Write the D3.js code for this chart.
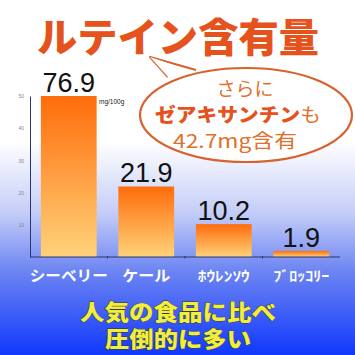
<!DOCTYPE html>
<html lang="ja">
<head>
<meta charset="UTF-8">
<title>ルテイン含有量</title>
<script src="https://d3js.org/d3.v7.min.js"></script>
<style>
  body { margin: 0; }
  svg { display: block; }
</style>
</head>
<body>
<div id="chart"></div>
<script>
  // データ
  const foods = ["シーベリー", "ケール", "ﾎｳﾚﾝｿｳ", "ﾌﾞﾛｯｺﾘｰ"];
  const lutein = [76.9, 21.9, 10.2, 1.9];
  const yTicks = [10, 20, 30, 40, 50];
  const bubbleLines = ["さらに", "ゼアキサンチン", "も", "42.7mg含有"];
  const footerLines = ["人気の食品に比べ", "圧倒的に多い"];

  const width = 355, height = 355;
  const jp = "'Noto Sans CJK JP', 'Noto Sans', sans-serif";

  const svg = d3.select("#chart").append("svg")
    .attr("width", width).attr("height", height);

  const defs = svg.append("defs");
  const bg = defs.append("linearGradient").attr("id", "bg")
    .attr("x1", 0).attr("y1", 0).attr("x2", 0).attr("y2", 1);
  bg.append("stop").attr("offset", "0%").attr("stop-color", "#ffffff");
  bg.append("stop").attr("offset", "40%").attr("stop-color", "#ffffff");
  bg.append("stop").attr("offset", "60%").attr("stop-color", "#c4cdf8");
  bg.append("stop").attr("offset", "76%").attr("stop-color", "#6e86f2");
  bg.append("stop").attr("offset", "100%").attr("stop-color", "#1038fd");

  const barGrad = defs.append("linearGradient").attr("id", "bar")
    .attr("x1", 0).attr("y1", 0).attr("x2", 0).attr("y2", 1);
  barGrad.append("stop").attr("offset", "0%").attr("stop-color", "#ff6c0a");
  barGrad.append("stop").attr("offset", "100%").attr("stop-color", "#ffd27a");

  svg.append("rect").attr("width", width).attr("height", height).attr("fill", "url(#bg)");

  // スケール
  const x = d3.scaleBand().domain(foods).range([30, 340])
    .paddingInner(0.28).paddingOuter(0.14);
  const y = d3.scaleLinear().domain([0, 50]).range([257, 96]).clamp(true);

  // 軸
  const yAxis = svg.append("g").attr("transform", "translate(30,0)")
    .call(d3.axisLeft(y).tickValues(yTicks).tickSize(0).tickPadding(6));
  yAxis.select(".domain").attr("stroke", "#2a3470").attr("stroke-width", 1);
  yAxis.selectAll("text").attr("font-size", 5).attr("fill", "#888")
    .attr("font-family", "Liberation Sans, Arial, sans-serif");

  // 棒
  svg.selectAll(".bar").data(lutein).join("rect")
    .attr("class", "bar")
    .attr("x", (d, i) => x(foods[i]))
    .attr("y", d => y(d))
    .attr("width", x.bandwidth())
    .attr("height", d => y(0) - y(d))
    .attr("fill", "url(#bar)");

  const xAxis = svg.append("g").attr("transform", "translate(0,257)");
  xAxis.append("line").attr("x1", 30).attr("x2", 340)
    .attr("stroke", "#2a3470").attr("stroke-width", 1);
  xAxis.selectAll(".tk").data(foods.slice(1)).join("line")
    .attr("x1", d => x(d) - x.step() * x.paddingInner() / 2)
    .attr("x2", d => x(d) - x.step() * x.paddingInner() / 2)
    .attr("y1", -1).attr("y2", 1.5).attr("stroke", "#2a3470");

  // 値ラベル
  svg.selectAll(".val").data(lutein).join("text")
    .attr("x", (d, i) => x(foods[i]) + x.bandwidth() / 2)
    .attr("y", d => y(d) - 4)
    .attr("text-anchor", "middle")
    .attr("font-family", "Liberation Sans, Arial, sans-serif")
    .attr("font-size", 27)
    .attr("fill", "#111")
    .text(d => d.toFixed(1));

  svg.append("text").attr("x", 99).attr("y", 104)
    .attr("font-family", "Liberation Sans, Arial, sans-serif")
    .attr("font-size", 6.5).attr("fill", "#222").text("mg/100g");

  // カテゴリ名
  svg.selectAll(".cat").data(foods).join("text")
    .attr("x", d => x(d) + x.bandwidth() / 2)
    .attr("y", 281)
    .attr("text-anchor", "middle")
    .attr("font-family", jp)
    .attr("font-weight", 700)
    .attr("font-size", (d, i) => i < 2 ? 15 : 14)
    .attr("fill", "#ffffff")
    .attr("textLength", (d, i) => [78, 48, 52, 56][i])
    .attr("lengthAdjust", "spacingAndGlyphs")
    .text(d => d);

  // タイトル
  svg.append("text").attr("x", 178).attr("y", 52)
    .attr("text-anchor", "middle")
    .attr("font-family", jp).attr("font-weight", 900)
    .attr("font-size", 40).attr("fill", "#e5521c")
    .attr("textLength", 282).attr("lengthAdjust", "spacingAndGlyphs")
    .text("ルテイン含有量");

  // 吹き出し
  const cx = 246, cy = 115, rx = 106, ry = 47;
  const bubble = svg.append("g");
  bubble.append("path")
    .attr("d", `M168,${cy - ry + 9} L150,57 L196,${cy - ry + 2}`)
    .attr("fill", "#fff").attr("stroke", "#d8612c").attr("stroke-width", 2.2)
    .attr("stroke-linejoin", "round");
  bubble.append("ellipse").attr("cx", cx).attr("cy", cy).attr("rx", rx).attr("ry", ry)
    .attr("fill", "#fff").attr("stroke", "#d8612c").attr("stroke-width", 2.2);
  bubble.append("path")
    .attr("d", `M170,${cy - ry + 11} L150,57 L194,${cy - ry + 4}`)
    .attr("fill", "#fff").attr("stroke", "none");

  bubble.append("text").attr("x", 245).attr("y", 96).attr("text-anchor", "middle")
    .attr("font-family", jp).attr("font-size", 19).attr("fill", "#e0702a")
    .text(bubbleLines[0]);
  const t2 = bubble.append("text").attr("x", 238).attr("y", 122).attr("text-anchor", "middle")
    .attr("font-family", jp).attr("font-size", 19)
    .attr("textLength", 166).attr("lengthAdjust", "spacingAndGlyphs");
  t2.append("tspan").attr("font-weight", 900).attr("fill", "#e5521c").text(bubbleLines[1]);
  t2.append("tspan").attr("fill", "#e0702a").text(bubbleLines[2]);
  bubble.append("text").attr("x", 235).attr("y", 148).attr("text-anchor", "middle")
    .attr("font-family", jp).attr("font-size", 19).attr("fill", "#e0702a")
    .attr("textLength", 124).attr("lengthAdjust", "spacingAndGlyphs")
    .text(bubbleLines[3]);

  // 下部テキスト
  svg.selectAll(".foot").data(footerLines).join("text")
    .attr("x", 178)
    .attr("y", (d, i) => 320 + i * 27)
    .attr("text-anchor", "middle")
    .attr("font-family", jp).attr("font-weight", 900)
    .attr("font-size", 22)
    .attr("fill", "#f2ee3c")
    .attr("stroke", "#3a3a20").attr("stroke-width", 0.8)
    .attr("paint-order", "stroke")
    .attr("textLength", (d, i) => i === 0 ? 196 : 146)
    .attr("lengthAdjust", "spacingAndGlyphs")
    .text(d => d);
</script>
</body>
</html>
